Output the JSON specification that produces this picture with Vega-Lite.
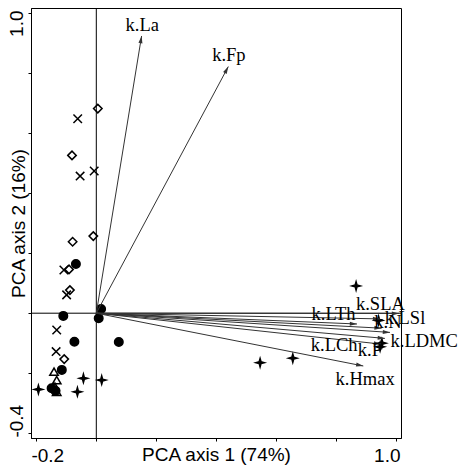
{
  "$schema": "https://vega.github.io/schema/vega-lite/v6.json",
  "width": 370,
  "height": 430,
  "autosize": {"type": "none"},
  "padding": {"left": 31, "top": 8, "right": 59, "bottom": 31},
  "background": "white",
  "config": {
    "view": {"stroke": "black", "strokeWidth": 1},
    "axis": {"grid": false, "domainColor": "black", "tickColor": "black", "labelColor": "black", "titleColor": "black", "labelFont": "Liberation Sans", "titleFont": "Liberation Sans", "labelFontSize": 19, "titleFontSize": 19, "titleFontWeight": "normal", "tickSize": 3, "labelOverlap": false, "labelFlush": false}
  },
  "datasets": {
    "pts": [
      {"x": 0.005, "y": 0.682, "g": "g1"},
      {"x": -0.081, "y": 0.526, "g": "g1"},
      {"x": -0.01, "y": 0.257, "g": "g1"},
      {"x": -0.079, "y": 0.238, "g": "g1"},
      {"x": -0.091, "y": 0.146, "g": "g1"},
      {"x": -0.088, "y": 0.077, "g": "g1"},
      {"x": -0.107, "y": -0.153, "g": "g1"},
      {"x": -0.062, "y": 0.648, "g": "g2"},
      {"x": -0.054, "y": 0.457, "g": "g2"},
      {"x": -0.007, "y": 0.474, "g": "g2"},
      {"x": -0.108, "y": 0.144, "g": "g2"},
      {"x": -0.099, "y": 0.061, "g": "g2"},
      {"x": -0.132, "y": -0.056, "g": "g2"},
      {"x": -0.134, "y": -0.128, "g": "g2"},
      {"x": -0.068, "y": 0.164, "g": "g3"},
      {"x": -0.11, "y": -0.009, "g": "g3"},
      {"x": 0.016, "y": 0.014, "g": "g3"},
      {"x": 0.008, "y": -0.017, "g": "g3"},
      {"x": -0.073, "y": -0.095, "g": "g3"},
      {"x": 0.075, "y": -0.096, "g": "g3"},
      {"x": -0.115, "y": -0.189, "g": "g3"},
      {"x": -0.149, "y": -0.25, "g": "g3"},
      {"x": -0.136, "y": -0.259, "g": "g3"},
      {"x": -0.141, "y": -0.195, "g": "g4"},
      {"x": -0.132, "y": -0.223, "g": "g4"},
      {"x": -0.138, "y": -0.245, "g": "g4"},
      {"x": -0.132, "y": -0.262, "g": "g4"},
      {"x": -0.193, "y": -0.254, "g": "g5"},
      {"x": -0.043, "y": -0.217, "g": "g5"},
      {"x": -0.063, "y": -0.262, "g": "g5"},
      {"x": 0.018, "y": -0.223, "g": "g5"},
      {"x": 0.866, "y": 0.091, "g": "g5"},
      {"x": 0.546, "y": -0.165, "g": "g5"},
      {"x": 0.655, "y": -0.15, "g": "g5"},
      {"x": 0.946, "y": -0.112, "g": "g5"},
      {"x": 0.952, "y": -0.1, "g": "g5"},
      {"x": 0.941, "y": -0.024, "g": "g5"}
    ],
    "vec": [
      {"name": "k.La", "x": 0.151, "y": 0.924, "lx": 0.153, "ly": 0.961},
      {"name": "k.Fp", "x": 0.44, "y": 0.822, "lx": 0.442, "ly": 0.86},
      {"name": "k.SLA", "x": 1.009, "y": -0.001, "lx": 0.947, "ly": 0.029},
      {"name": "k.LSl", "x": 0.946, "y": -0.019, "lx": 1.029, "ly": -0.017},
      {"name": "k.LTh", "x": 0.869, "y": -0.036, "lx": 0.791, "ly": -0.002},
      {"name": "k.N", "x": 0.951, "y": -0.05, "lx": 0.972, "ly": -0.031},
      {"name": "k.LDMC", "x": 0.979, "y": -0.064, "lx": 1.093, "ly": -0.093},
      {"name": "k.LCh", "x": 0.962, "y": -0.084, "lx": 0.793, "ly": -0.106},
      {"name": "k.P", "x": 0.949, "y": -0.103, "lx": 0.912, "ly": -0.123},
      {"name": "k.Hmax", "x": 0.89, "y": -0.176, "lx": 0.896, "ly": -0.22}
    ]
  },
  "layer": [
    {
      "data": {"name": "pts"},
      "mark": {"type": "point", "stroke": "black", "strokeWidth": 1.5, "opacity": 1},
      "encoding": {
        "x": {"field": "x", "type": "quantitative",
          "scale": {"domain": [-0.2177, 1.0157], "nice": false, "zero": false},
          "axis": {"values": [-0.2, 0, 0.2, 0.4, 0.6, 0.8, 1], "title": "PCA axis 1 (74%)", "labelPadding": 5,
            "labelExpr": "datum.value > 0.9 ? '1.0' : datum.value < -0.1 ? '-0.2' : ''",
            "labelOffset": {"condition": {"test": "datum.value > 0.9", "value": -9.5}, "value": 11},
            "titlePadding": -20}},
        "y": {"field": "y", "type": "quantitative",
          "scale": {"domain": [-0.416, 1.0173], "nice": false, "zero": false},
          "axis": {"values": [-0.4, -0.2, 0, 0.2, 0.4, 0.6, 0.8, 1], "title": "PCA axis 2 (16%)", "labelPadding": 2,
            "labelAngle": -90, "labelAlign": "center", "labelBaseline": "bottom",
            "labelExpr": "datum.value > 0.9 ? '1.0' : datum.value < -0.3 ? '-0.4' : ''",
            "labelOffset": {"condition": {"test": "datum.value > 0.9", "value": 10}, "value": -12.5},
            "titlePadding": -21}},
        "shape": {"field": "g", "type": "nominal", "legend": null,
          "scale": {"domain": ["g1", "g2", "g3", "g4", "g5"], "range": ["diamond", "M-1,-1L1,1M-1,1L1,-1", "circle", "triangle-up", "M0,-1L0.22,-0.22L1,0L0.22,0.22L0,1L-0.22,0.22L-1,0L-0.22,-0.22Z"]}},
        "fill": {"field": "g", "type": "nominal", "legend": null,
          "scale": {"domain": ["g1", "g2", "g3", "g4", "g5"], "range": ["transparent", "transparent", "black", "transparent", "black"]}},
        "size": {"field": "g", "type": "nominal", "legend": null,
          "scale": {"domain": ["g1", "g2", "g3", "g4", "g5"], "range": [72, 72, 105, 58, 125]}}
      }
    },
    {
      "data": {"values": [{"v": 0}]},
      "mark": {"type": "rule", "color": "black", "strokeWidth": 1},
      "encoding": {"x": {"field": "v", "type": "quantitative"}}
    },
    {
      "data": {"values": [{"v": 0}]},
      "mark": {"type": "rule", "color": "black", "strokeWidth": 1},
      "encoding": {"y": {"field": "v", "type": "quantitative"}}
    },
    {
      "data": {"name": "vec"},
      "mark": {"type": "rule", "color": "#333333", "strokeWidth": 1},
      "encoding": {
        "x": {"field": "x", "type": "quantitative"},
        "y": {"field": "y", "type": "quantitative"},
        "x2": {"datum": 0},
        "y2": {"datum": 0}
      }
    },
    {
      "data": {"name": "vec"},
      "transform": [{"calculate": "atan2(datum.x, datum.y) * 180 / PI", "as": "ang"}],
      "mark": {"type": "point", "shape": "M0,0L-0.45,1.6L0.45,1.6Z", "filled": true, "color": "#333333", "size": 81, "opacity": 1},
      "encoding": {
        "x": {"field": "x", "type": "quantitative"},
        "y": {"field": "y", "type": "quantitative"},
        "angle": {"field": "ang", "type": "quantitative", "scale": null}
      }
    },
    {
      "data": {"name": "vec"},
      "mark": {"type": "text", "font": "Liberation Serif", "fontSize": 18.5, "color": "black", "align": "center", "baseline": "middle"},
      "encoding": {
        "x": {"field": "lx", "type": "quantitative"},
        "y": {"field": "ly", "type": "quantitative"},
        "text": {"field": "name"}
      }
    }
  ]
}
